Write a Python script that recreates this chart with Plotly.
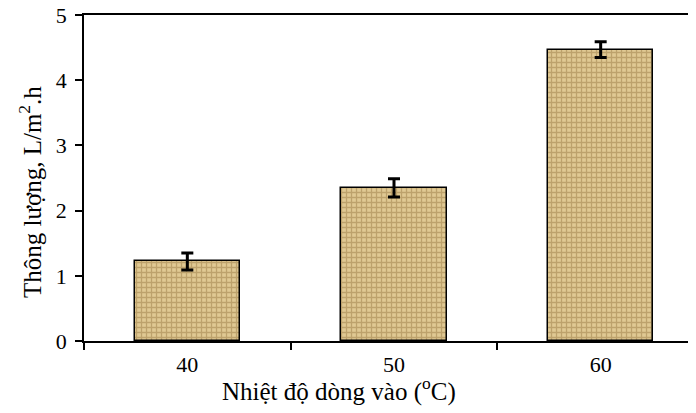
import plotly.graph_objects as go

categories = ["40", "50", "60"]
flux = [1.22, 2.35, 4.47]
flux_err = [0.13, 0.14, 0.12]
y_ticks = [0, 1, 2, 3, 4, 5]

xpos = list(range(len(categories)))
font_family = "Liberation Serif, Times New Roman, serif"

fig = go.Figure()
fig.add_trace(go.Bar(
    x=xpos, y=flux, width=0.51,
    marker=dict(
        color="#cdb27a",
        line=dict(color="black", width=1.5),
        pattern=dict(shape="+", fgcolor="#9a7b45", bgcolor="#e0c993",
                     size=5, solidity=0.45, fillmode="overlay"),
    ),
    error_y=dict(type="data", array=flux_err, visible=True,
                 color="black", thickness=3, width=6),
    showlegend=False,
))

fig.update_layout(
    width=696, height=413,
    margin=dict(l=76, r=0, t=7, b=80, autoexpand=False),
    paper_bgcolor="white", plot_bgcolor="white",
    font=dict(family=font_family, size=20, color="black"),
    bargap=0,
)
fig.update_xaxes(
    automargin=False,
    range=[-0.5, 2.5],
    tickvals=xpos, ticktext=categories, ticks="",
    tickfont=dict(size=22), ticklabelstandoff=3,
    minor=dict(tickvals=[-0.5, 0.5, 1.5, 2.5], ticks="outside",
               ticklen=7, tickwidth=1.5, tickcolor="black"),
    showline=True, linecolor="black", linewidth=1.5, mirror=True,
    showgrid=False, zeroline=False,
)
fig.update_yaxes(
    automargin=False,
    range=[0, 5], tickvals=y_ticks,
    ticks="outside", ticklen=7, tickwidth=1.5, tickcolor="black",
    tickfont=dict(size=22), ticklabelstandoff=4, ticklabeloverflow="allow",
    showline=True, linecolor="black", linewidth=1.5, mirror=False,
    showgrid=False, zeroline=False,
)
fig.add_annotation(
    text="Nhiệt độ dòng vào (<sup>o</sup>C)", xref="paper", yref="paper",
    x=0.412, y=-0.148, xanchor="center", yanchor="middle",
    showarrow=False, font=dict(size=25),
)
fig.add_annotation(
    text="Thông lượng, L/m<sup>2</sup>.h", xref="paper", yref="paper",
    x=-0.087, y=0.457, xanchor="center", yanchor="middle", textangle=-90,
    showarrow=False, font=dict(size=25),
)

fig.write_html("out.html")
